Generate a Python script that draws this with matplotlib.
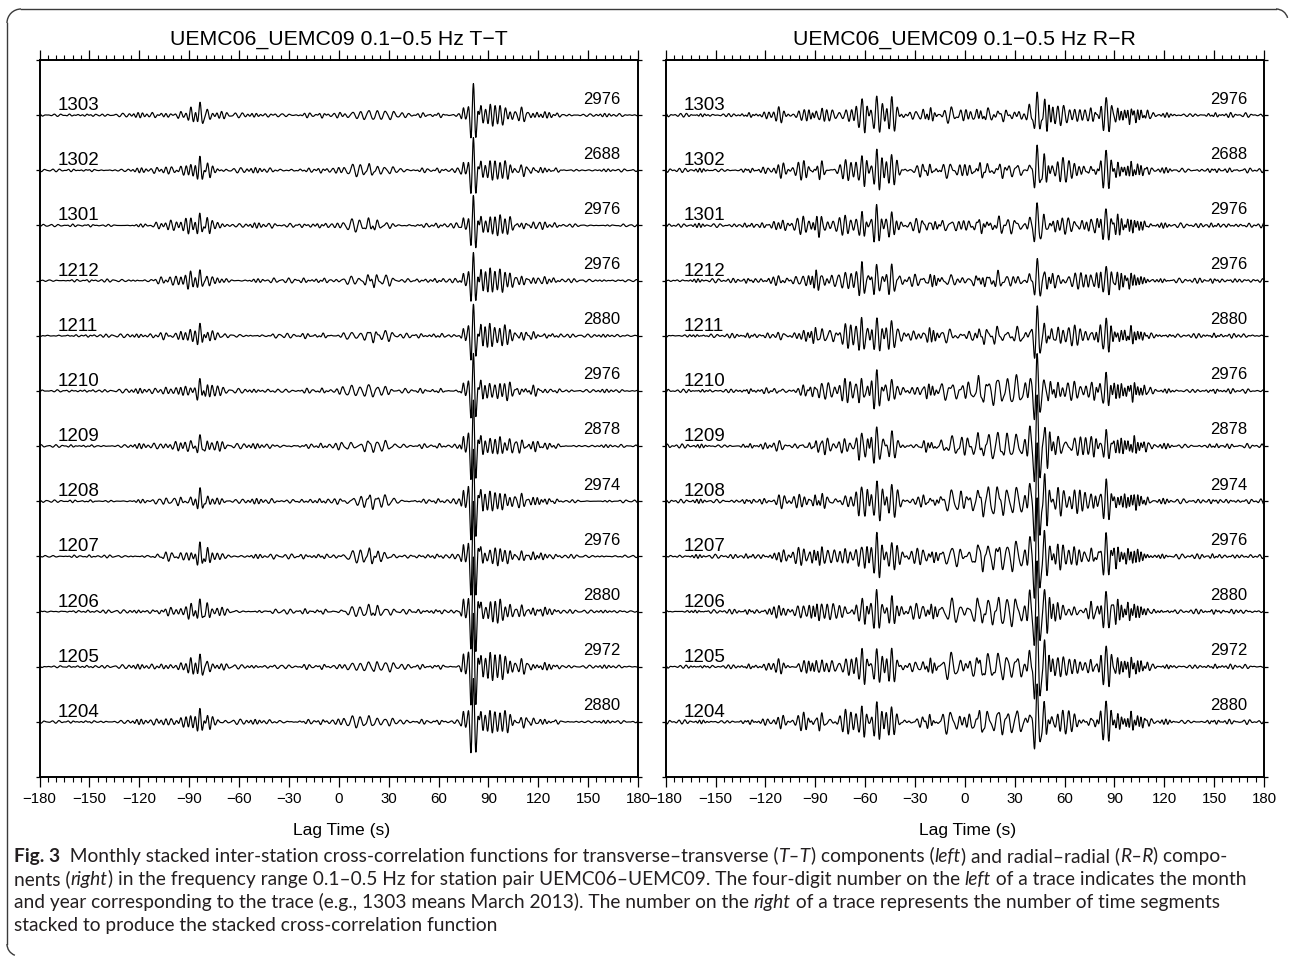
import numpy as np
import matplotlib
matplotlib.use("Agg")
import matplotlib.pyplot as plt
from matplotlib.patches import Arc
from matplotlib.lines import Line2D
from matplotlib.ticker import FixedLocator, MultipleLocator

plt.rcParams['font.family'] = ['Liberation Sans', 'DejaVu Sans']
plt.rcParams['axes.unicode_minus'] = True

# ---------------- data ----------------
months = ["1303", "1302", "1301", "1212", "1211", "1210",
          "1209", "1208", "1207", "1206", "1205", "1204"]
tt_counts = ["2976", "2688", "2976", "2976", "2880", "2976",
             "2878", "2974", "2976", "2880", "2972", "2880"]
rr_counts = ["2976", "2688", "2976", "2976", "2880", "2976",
             "2878", "2974", "2976", "2880", "2972", "2880"]
lag_ticks = [-180, -150, -120, -90, -60, -30, 0, 30, 60, 90, 120, 150, 180]

# background (noise) envelope, in pixels, at lag -180, -170, ..., 180 s
bg_times = [-180, -170, -160, -150, -140, -130, -120, -110, -100, -90, -80, -70,
            -60, -50, -40, -30, -20, -10, 0, 10, 20, 30, 40, 50, 60, 70, 80, 90,
            100, 110, 120, 130, 140, 150, 160, 170, 180]
tt_bg_amp = [1.2, 1.2, 1.2, 1.2, 1.4, 1.7, 2.2, 2.7, 3.2, 3.8, 3.2, 2.7,
             2.3, 2.3, 2.3, 2.2, 2.4, 2.4, 2.7, 3.2, 3.2, 2.7, 2.2, 2.2, 2.2, 2.2, 2.0, 4.5,
             4.5, 3.2, 2.7, 2.2, 1.7, 1.4, 1.4, 1.4, 1.2]
rr_bg_amp = [1.8, 1.8, 1.8, 1.8, 2.0, 2.3, 2.8, 4.5, 5.5, 6.0, 6.0, 5.5,
             5.5, 5.5, 5.5, 5.5, 5.5, 5.5, 5.5, 5.5, 5.5, 5.5, 5.5, 7.0, 7.0, 6.0, 5.5, 5.5,
             5.0, 3.2, 2.4, 2.2, 2.2, 2.2, 2.2, 2.2, 2.2]
tt_bg_period = [3.2, 4.5, 2.8, 5.0, 3.7, 4.1, 2.6]
rr_bg_period = [3.0, 3.8, 2.6, 4.4, 3.3, 2.2, 3.6]

# wave packets: lag (s), amplitude (px), period (s), half-width (s), group
tt_pk_time = [-104, -95, -89, -83.5, -79, -73, 8, 18, 28, 75.0, 81.0, 85.5,
              91, 97, 103, 110, 117, 124]
tt_pk_amp = [2.5, 3.5, 5.5, 13.0, 5.5, 3.0, 3.5, 4.5, 3.5, 7.0, 32.0, 11.0,
             8.0, 7.5, 5.5, 4.5, 3.5, 2.5]
tt_pk_period = [3.0, 3.0, 3.2, 3.4, 3.0, 3.0, 5.5, 5.5, 5.0, 3.2, 3.2, 3.0,
                3.0, 3.0, 3.0, 3.0, 2.8, 2.8]
tt_pk_width = [3.0, 2.5, 2.0, 1.6, 2.0, 3.0, 4.0, 4.0, 4.0, 1.0, 1.9, 1.3,
               2.5, 2.5, 2.5, 2.5, 2.5, 2.5]
tt_pk_group = ["pre", "pre", "pre", "pre", "pre", "pre", "mid", "mid", "mid",
               "main", "main", "coda", "coda", "coda", "coda", "coda", "coda", "coda"]

rr_pk_time = [-112, -97, -86, -72, -62, -53, -44, -25, -8, 8, 20, 31,
              39, 43.5, 48, 56, 66, 76, 85, 92, 100, 106]
rr_pk_amp = [4, 5, 7, 8, 14, 20, 15, 4, 3, 3, 3.5, 3.5,
             9, 27, 11, 8, 7, 6, 17, 6, 5, 3]
rr_pk_period = [3.0, 3.2, 3.5, 3.5, 3.5, 3.5, 3.5, 4.0, 6.0, 6.0, 6.0, 6.0,
                3.5, 3.5, 3.2, 3.2, 3.5, 3.5, 3.5, 2.2, 2.0, 2.0]
rr_pk_width = [3, 3, 3, 3, 3, 2.5, 2.5, 4, 5, 5, 5, 5,
               1.5, 2.0, 2.5, 3, 3, 3, 2.5, 3, 3, 3]
rr_pk_group = ["pre"] * 8 + ["mid"] * 4 + ["main"] * 3 + ["coda"] * 7

# per-trace gains (top trace 1303 first)
tt_gain = {
    "pre":  [1.0, 1.0, 1.0, 1.0, 1.0, 1.0, 1.0, 1.0, 1.0, 1.0, 1.0, 1.0],
    "mid":  [1.0, 1.0, 1.0, 1.0, 1.0, 1.3, 1.2, 1.2, 1.2, 1.1, 1.0, 1.0],
    "main": [1.0, 1.0, 0.95, 0.95, 1.0, 1.15, 1.45, 1.6, 1.65, 1.7, 1.7, 1.35],
    "coda": [1.0, 1.0, 1.0, 1.0, 1.0, 1.1, 1.1, 1.2, 1.2, 1.2, 1.2, 1.1],
}
rr_gain = {
    "pre":  [1.0, 1.0, 1.0, 1.0, 1.0, 1.0, 1.0, 1.0, 1.0, 1.0, 1.0, 1.0],
    "mid":  [1.0, 1.0, 1.0, 1.0, 1.3, 3.0, 3.0, 3.5, 3.0, 3.2, 3.0, 2.5],
    "main": [1.0, 1.0, 1.0, 1.0, 1.1, 1.35, 2.0, 2.2, 2.2, 2.1, 2.1, 1.5],
    "coda": [1.0, 1.0, 1.0, 1.0, 1.0, 1.1, 1.1, 1.2, 1.2, 1.2, 1.2, 1.1],
}

# ---------------- layout ----------------
W, H, DPI = 1290, 958, 100
fig = plt.figure(figsize=(W / DPI, H / DPI), dpi=DPI)
fig.patch.set_facecolor("white")


def px_axes(left, top, right, bottom):
    return fig.add_axes([left / W, 1 - bottom / H, (right - left) / W, (bottom - top) / H])


axL = px_axes(39.5, 60, 638, 777)
axR = px_axes(665.7, 60, 1264, 777)
SPACING_PX = 717 / 13.0

lag = np.arange(-180.0, 180.001, 0.1)


def gabor(c, a, p, s, ph=0.0):
    return a * np.exp(-0.5 * ((lag - c) / s) ** 2) * np.cos(2 * np.pi * (lag - c) / p + ph)


def build_trace(j, bg_amp, bg_per, pt, pa, pp, pw, pg, gains):
    y = np.zeros_like(lag)
    n = len(bg_per)
    for k, (c, a) in enumerate(zip(bg_times, bg_amp)):
        p1 = bg_per[k % n]
        p2 = bg_per[(k + 3) % n]
        y += 0.6 * gabor(c, a, p1, 3.4, 2.4 * k + 0.7 * j)
        y += 0.6 * gabor(c, a, p2, 3.4, 1.3 * k + 1.9 * j)
    for c, a, p, s, g in zip(pt, pa, pp, pw, pg):
        y += gains[g][j] * gabor(c, a, p, s)
    return y / SPACING_PX


def setup_panel(ax, title, bg_amp, bg_per, pt, pa, pp, pw, pg, gains, counts,
                left_lab_x, right_lab_x):
    n = len(months)
    for j in range(n):
        base = n - j
        tr = build_trace(j, bg_amp, bg_per, pt, pa, pp, pw, pg, gains)
        ax.plot(lag, base + tr, color="black", lw=0.85, solid_joinstyle="round")
        ax.text(left_lab_x, base + 0.09, months[j], fontsize=13.5,
                ha="left", va="baseline")
        ax.text(right_lab_x, base + 0.21, counts[j], fontsize=12,
                ha="right", va="baseline")
    ax.set_xlim(-180, 180)
    ax.set_ylim(0, 13)
    ax.xaxis.set_major_locator(FixedLocator(lag_ticks))
    ax.xaxis.set_minor_locator(MultipleLocator(5))
    ax.tick_params(axis="x", which="major", direction="out", length=7, width=0.9,
                   top=True, bottom=True, labelsize=10.8, pad=4)
    ax.tick_params(axis="x", which="minor", direction="out", length=3.5, width=0.8,
                   top=True, bottom=True)
    ax.set_yticks(list(range(14)))
    ax.tick_params(axis="y", direction="out", length=3, width=0.9,
                   left=True, right=True, labelleft=False)
    for sp in ax.spines.values():
        sp.set_linewidth(1.4)
    bb = ax.get_position()
    cx = (bb.x0 + bb.x1) / 2
    fig.text(cx, 1 - 45 / H, title, fontsize=15.3, ha="center", va="baseline")
    fig.text(cx + 3 / W, 1 - 835 / H, "Lag Time (s)", fontsize=12.6,
             ha="center", va="baseline")


setup_panel(axL, "UEMC06_UEMC09 0.1\u22120.5 Hz T\u2212T", tt_bg_amp, tt_bg_period,
            tt_pk_time, tt_pk_amp, tt_pk_period, tt_pk_width, tt_pk_group, tt_gain,
            tt_counts, -168.9, 169.3)
setup_panel(axR, "UEMC06_UEMC09 0.1\u22120.5 Hz R\u2212R", rr_bg_amp, rr_bg_period,
            rr_pk_time, rr_pk_amp, rr_pk_period, rr_pk_width, rr_pk_group, rr_gain,
            rr_counts, -169.4, 169.9)

# ---------------- caption ----------------
cap_font = ["Lato", "DejaVu Sans"]
caption_lines = [
    [("Fig. 3", "bold"), ("  Monthly stacked inter-station cross-correlation functions for transverse\u2013transverse (", "normal"),
     ("T\u2013T", "italic"), (") components (", "normal"), ("left", "italic"),
     (") and radial\u2013radial (", "normal"), ("R\u2013R", "italic"), (") compo-", "normal")],
    [("nents (", "normal"), ("right", "italic"),
     (") in the frequency range 0.1\u20130.5 Hz for station pair UEMC06\u2013UEMC09. The four-digit number on the ", "normal"),
     ("left", "italic"), (" of a trace indicates the month", "normal")],
    [("and year corresponding to the trace (e.g., 1303 means March 2013). The number on the ", "normal"),
     ("right", "italic"), (" of a trace represents the number of time segments", "normal")],
    [("stacked to produce the stacked cross-correlation function", "normal")],
]
cap_baselines = [862, 885, 908, 931]
cap_x0 = 14
cap_fit_end = 1243  # right end of the second line

renderer = fig.canvas.get_renderer()


def seg_width(txt, style, size):
    kw = dict(fontsize=size, family=cap_font)
    if style == "bold":
        kw["fontweight"] = "bold"
    if style == "italic":
        kw["fontstyle"] = "italic"
    t1 = fig.text(0, 0, "|" + txt + "|", **kw)
    t2 = fig.text(0, 0, "||", **kw)
    w = t1.get_window_extent(renderer).width - t2.get_window_extent(renderer).width
    t1.remove()
    t2.remove()
    return w


base_size = 12.0
w_line2 = sum(seg_width(s, st, base_size) for s, st in caption_lines[1])
cap_size = base_size * (cap_fit_end - cap_x0) / w_line2

for line, yb in zip(caption_lines, cap_baselines):
    x = cap_x0
    for txt, style in line:
        kw = dict(fontsize=cap_size, family=cap_font, ha="left", va="baseline",
                  color="#231f20")
        if style == "bold":
            kw["fontweight"] = "bold"
        if style == "italic":
            kw["fontstyle"] = "italic"
        fig.text(x / W, 1 - yb / H, txt, **kw)
        x += seg_width(txt, style, cap_size)

# ---------------- frame around the figure ----------------
tr_in = fig.dpi_scale_trans


def P(x, y):
    return x / DPI, (H - y) / DPI


border_col = "#3a3a3a"
r = 14
for (xa, ya), (xb, yb) in [((7, 23), (7, 944)), ((21, 9), (1276, 9))]:
    (x1, y1), (x2, y2) = P(xa, ya), P(xb, yb)
    fig.add_artist(Line2D([x1, x2], [y1, y2], transform=tr_in, color=border_col, lw=1.0))
fig.add_artist(Arc(P(21, 23), 2 * r / DPI, 2 * r / DPI, theta1=90, theta2=180,
                   transform=tr_in, color=border_col, lw=1.0))
fig.add_artist(Arc(P(1276, 21), 24 / DPI, 24 / DPI, theta1=15, theta2=90,
                   transform=tr_in, color=border_col, lw=1.0))
fig.add_artist(Arc(P(19, 944), 24 / DPI, 24 / DPI, theta1=180, theta2=250,
                   transform=tr_in, color=border_col, lw=1.0))

fig.savefig("out.png", dpi=DPI)
